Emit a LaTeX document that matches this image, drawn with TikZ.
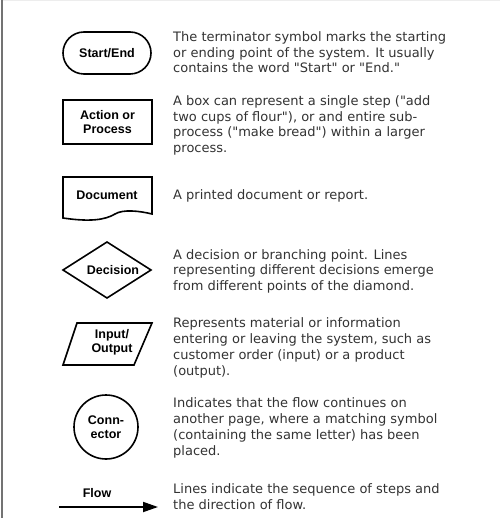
\documentclass[tikz,border=0pt]{standalone}
\usepackage{fontspec}
\setmainfont{DejaVu Sans}[Ligatures=TeXOff]
\newfontfamily\labfont{Liberation Sans}
\usetikzlibrary{shapes.geometric,arrows.meta}
\definecolor{txt}{HTML}{333333}
\begin{document}
\begin{tikzpicture}[x=1pt,y=-1pt,
  desc/.style={anchor=base west, inner sep=0pt, align=left, text=txt,
    font=\fontsize{13}{15.7}\selectfont},
  lab/.style={font=\labfont\bfseries\fontsize{12.5}{14}\selectfont, align=center, inner sep=0pt},
  sym/.style={draw, line width=1.6pt}]
\useasboundingbox (0,0) rectangle (500,518);
\fill[white] (0,0) rectangle (500,518);
\draw[black!55, line width=2pt] (1.7,0) -- (1.7,518);
\draw[black!7, line width=1pt] (3,1) -- (500,1);

% symbols
\node[sym, lab, rectangle, rounded corners=21pt, minimum width=88pt, minimum height=42pt] (start) at (107,53) {Start/End};
\node[sym, lab, rectangle, minimum width=89pt, minimum height=44pt] (action) at (107.5,122) {Action or\\Process};

\draw[sym] (63,218) -- (63,177) -- (152,177) -- (152,214)
  .. controls (140,211) and (123,209) .. (115,214)
  .. controls (105,220) and (90,222) .. (63,218) -- cycle;
\node[lab] (doc) at (107,195) {Document};

\draw[sym] (63,270) -- (107,242) -- (151,270) -- (107,298) -- cycle;
\node[lab] (dec) at (113,270) {Decision};

\draw[sym] (77,323) -- (152,323) -- (134,365) -- (63,365) -- cycle;
\node[lab] (io) at (112,342) {Input/\\Output};

\node[sym, lab, circle, minimum size=64pt] (conn) at (106,427) {Conn-\\ector};

\node[lab] (flow) at (97,493) {Flow};
\coordinate (fa) at (59,507);
\coordinate (fb) at (158,507);
\draw[line width=1.8pt, -{Triangle[length=15pt,width=10pt]}] (fa) -- (fb);

% descriptions (anchored at the baseline of the last line)
\node[desc] (d1) at (173,73) {The terminator symbol marks the starting\\or ending point of the system. It usually\\contains the word "Start" or "End."};
\node[desc] (d2) at (173,152.6) {A box can represent a single step ("add\\two cups of flour"), or and entire sub-\\process ("make bread") within a larger\\process.};
\node[desc] (d3) at (173,200) {A printed document or report.};
\node[desc] (d4) at (173,290.5) {A decision or branching point. Lines\\representing different decisions emerge\\from different points of the diamond.};
\node[desc] (d5) at (173,375) {Represents material or information\\entering or leaving the system, such as\\customer order (input) or a product\\(output).};
\node[desc] (d6) at (173,455) {Indicates that the flow continues on\\another page, where a matching symbol\\(containing the same letter) has been\\placed.};
\node[desc] (d7) at (173,509) {Lines indicate the sequence of steps and\\the direction of flow.};
\end{tikzpicture}
\end{document}
